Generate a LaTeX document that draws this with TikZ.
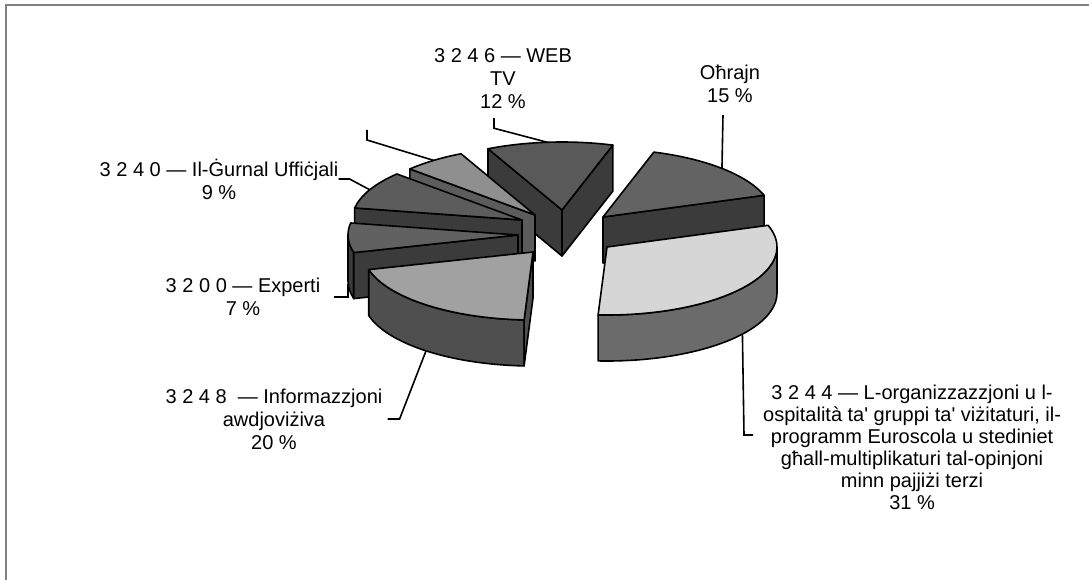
\documentclass[tikz,border=0pt]{standalone}
\usepackage{fontspec}
\setmainfont{Liberation Sans}
\usepackage{tikz}
\usetikzlibrary{calc}
\definecolor{webTop}{gray}{0.35}
\definecolor{darkSide}{gray}{0.23}
\definecolor{ohrTop}{gray}{0.39}
\definecolor{othTop}{gray}{0.56}
\definecolor{othSide}{gray}{0.36}
\definecolor{gurTop}{gray}{0.36}
\definecolor{expTop}{gray}{0.38}
\definecolor{awdTop}{gray}{0.63}
\definecolor{awdSide}{gray}{0.31}
\definecolor{ospTop}{gray}{0.84}
\definecolor{ospSide}{gray}{0.42}
\definecolor{frameGray}{gray}{0.5}
\tikzset{slice/.style={draw=black, line width=1.6pt, line join=round}, leader/.style={line width=1.6pt}, frame/.style={draw=frameGray, line width=1.8pt}}
\newcommand\pieRx{170pt}
\newcommand\pieRy{68pt}
\newcommand\pieH{46pt}
% point on the rim of a slice, angle #1
\newcommand\rim[1]{canvas polar cs:angle=#1, x radius=\pieRx, y radius=\pieRy}
% 3d slice: #1 centre, #2 start angle, #3 end angle, #4 top colour, #5 side colour
\newcommand\pieslice[5]{%
	\pgfmathsetmacro\rimA{max(#2,180)}%
	\pgfmathsetmacro\rimB{min(#3,360)}%
	\ifdim\rimA pt<\rimB pt
		\filldraw[slice, fill=#5] ($(#1)+(\rim{\rimA})$) arc[start angle=\rimA, end angle=\rimB, x radius=\pieRx, y radius=\pieRy] -- ++(0pt,-\pieH) arc[start angle=\rimB, end angle=\rimA, x radius=\pieRx, y radius=\pieRy] -- cycle;
	\fi
	\pgfmathtruncatemacro\faceA{cos(#2)>0}%
	\pgfmathtruncatemacro\faceB{cos(#3)<0}%
	\ifnum\faceA=1 \filldraw[slice, fill=#5] (#1) -- ($(#1)+(\rim{#2})$) -- ++(0pt,-\pieH) -- ($(#1)+(0pt,-\pieH)$) -- cycle; \fi
	\ifnum\faceB=1 \filldraw[slice, fill=#5] (#1) -- ($(#1)+(\rim{#3})$) -- ++(0pt,-\pieH) -- ($(#1)+(0pt,-\pieH)$) -- cycle; \fi
	\filldraw[slice, fill=#4] (#1) -- ($(#1)+(\rim{#2})$) arc[start angle=#2, end angle=#3, x radius=\pieRx, y radius=\pieRy] -- cycle;
}

\begin{document}
\begin{tikzpicture}[x=1pt, y=-1pt, every node/.style={align=center, inner sep=0pt, font=\fontsize{20}{23}\selectfont}]
	\useasboundingbox (0,0) rectangle (1089,580);
	\draw[frame] (6,580) -- (6,5) -- (1089,5);
	% slice centres
	\coordinate (WebTvC) at (562,210);
	\coordinate (OhrajnC) at (603,217);
	\coordinate (OtherC) at (535,215);
	\coordinate (GurnalC) at (522,220);
	\coordinate (ExpertiC) at (518,235);
	\coordinate (OspitC) at (607,247);
	\coordinate (AwdjoC) at (533,252);
	% back to front
	\pieslice{WebTvC}{72.6}{115.8}{webTop}{darkSide}
	\pieslice{OhrajnC}{18.6}{72.6}{ohrTop}{darkSide}
	\pieslice{OtherC}{115.8}{137.4}{othTop}{othSide}
	\pieslice{GurnalC}{137.4}{169.8}{gurTop}{darkSide}
	\pieslice{ExpertiC}{169.8}{195}{expTop}{darkSide}
	\pieslice{OspitC}{267}{378.6}{ospTop}{ospSide}
	\pieslice{AwdjoC}{195}{267}{awdTop}{awdSide}
	% leader ends
	\coordinate (WebTvP) at ($(WebTvC)+(\rim{95})$);
	\coordinate (OhrajnP) at ($(OhrajnC)+(\rim{45.6})$);
	\coordinate (OtherP) at ($(OtherC)+(\rim{126.6})$);
	\coordinate (OtherK) at (367,130);
	\coordinate (GurnalP) at ($(GurnalC)+(\rim{153.6})$);
	\coordinate (ExpertiP) at ($(ExpertiC)+(\rim{182.4})+(0pt,-\pieH)$);
	\coordinate (AwdjoP) at ($(AwdjoC)+(\rim{-129})+(0pt,-\pieH)$);
	\coordinate (OspitP) at ($(OspitC)+(\rim{-37.2})+(0pt,-\pieH)$);
	% labels
	\node (WebTv) at (503,79) {3 2 4 6 — WEB\\TV\\12 \%};
	\node (Ohrajn) at (730,84) {Oħrajn\\15 \%};
	\node (Gurnal) at (219,179) {3 2 4 0 — Il-Ġurnal Uffiċjali\\9 \%};
	\node (Experti) at (243,297) {3 2 0 0 — Experti\\7 \%};
	\node (Awdjo) at (274,419) {3 2 4 8 \ — Informazzjoni\\awdjoviżiva\\20 \%};
	\node[anchor=west, font=\fontsize{20}{22}\selectfont] (Ospit) at (763,447) {3 2 4 4 — L-organizzazzjoni u l-\\ospitalità ta\textquotesingle\ gruppi ta\textquotesingle\ viżitaturi, il-\\programm Euroscola u stediniet\\għall-multiplikaturi tal-opinjoni\\minn pajjiżi terzi\\31 \%};
	% leaders
	\draw[leader] ([xshift=-9pt,yshift=-9pt]WebTv.south) -- ++(0,10) -- (WebTvP);
	\draw[leader] ([xshift=-7pt,yshift=-12pt]Ohrajn.south) -- (OhrajnP);
	\draw[leader] (OtherK) -- ++(0,10) -- (OtherP);
	\draw[leader] (Gurnal.east) -- ++(11,0) -- (GurnalP);
	\draw[leader] (ExpertiP) |- ([xshift=14pt]Experti.east);
	\draw[leader] (AwdjoP) -- ([xshift=17pt]Awdjo.east) -- ([xshift=5pt]Awdjo.east);
	\draw[leader] (OspitP) -- ([xshift=-19pt,yshift=12pt]Ospit.west) -- ([xshift=-10pt,yshift=12pt]Ospit.west);
\end{tikzpicture}
\end{document}
